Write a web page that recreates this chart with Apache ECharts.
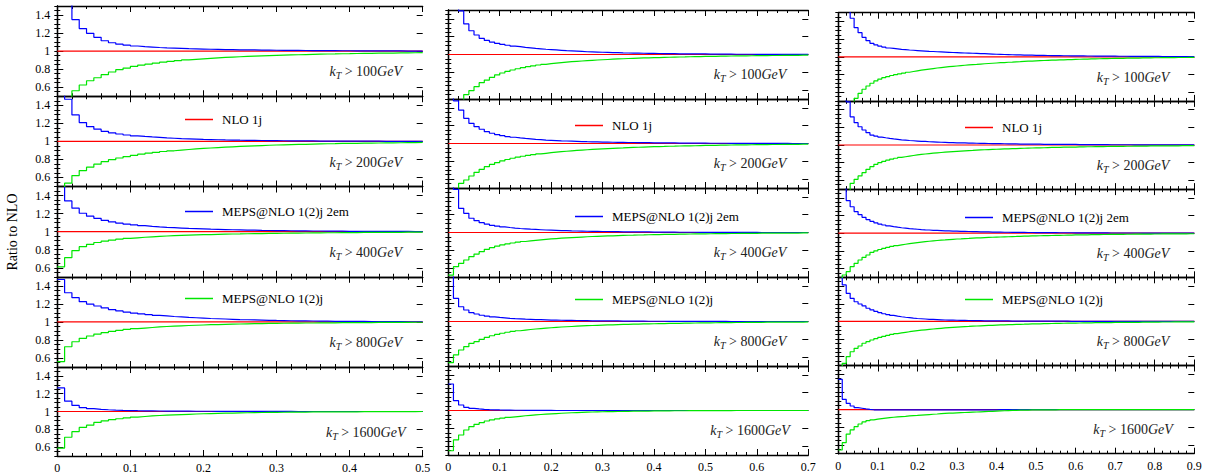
<!DOCTYPE html>
<html><head><meta charset="utf-8">
<script src="https://cdn.jsdelivr.net/npm/echarts@6/dist/echarts.min.js"></script>
<style>html,body{margin:0;padding:0;background:#fff}#c{width:1206px;height:474px}</style>
</head><body><div id="c"></div>
<script>
// ---------------- DATA ----------------
const binWidth = 0.01;
const xMaxByColumn = [0.5, 0.7, 0.9];
const ktCuts = [100, 200, 400, 800, 1600];
const yTickLabels = [0.6, 0.8, 1, 1.2, 1.4];
const legendNames = ['NLO 1j', 'MEPS@NLO 1(2)j 2em', 'MEPS@NLO 1(2)j'];
const yAxisTitle = 'Ratio to NLO';
const nloRatio = 1;

// column 1 (0 - 0.5)
const c1_kt100_blue = [1.8,1.6,1.35,1.25,1.197,1.153,1.115,1.093,1.077,1.066,1.057,1.05,1.045,1.04,1.036,1.033,1.03,1.027,1.025,1.023,1.021,1.019,1.017,1.016,1.015,1.014,1.013,1.012,1.011,1.01,1.009,1.008,1.008,1.007,1.006,1.006,1.005,1.005,1.004,1.004,1.003,1.003,1.003,1.002,1.002,1.002,1.002,1.001,1.001,1.001];
const c1_kt100_green = [0.3,0.45,0.561,0.625,0.672,0.705,0.739,0.769,0.794,0.812,0.83,0.845,0.857,0.868,0.878,0.887,0.895,0.903,0.909,0.915,0.92,0.925,0.93,0.934,0.938,0.942,0.945,0.948,0.951,0.954,0.956,0.958,0.96,0.962,0.964,0.966,0.968,0.969,0.971,0.972,0.974,0.975,0.976,0.977,0.978,0.979,0.98,0.981,0.982,0.983];
const c1_kt200_blue = [1.7,1.467,1.293,1.208,1.164,1.135,1.112,1.095,1.082,1.071,1.062,1.055,1.049,1.044,1.039,1.035,1.031,1.028,1.025,1.022,1.02,1.018,1.016,1.015,1.013,1.012,1.011,1.01,1.009,1.008,1.007,1.006,1.006,1.005,1.005,1.004,1.004,1.003,1.003,1.003,1.002,1.002,1.002,1.002,1.001,1.001,1.001,1.001,1.001,1.0];
const c1_kt200_green = [0.4,0.537,0.621,0.677,0.714,0.748,0.775,0.797,0.816,0.832,0.846,0.858,0.869,0.879,0.888,0.896,0.903,0.91,0.916,0.922,0.927,0.932,0.936,0.94,0.944,0.948,0.951,0.954,0.957,0.96,0.962,0.964,0.966,0.968,0.97,0.972,0.974,0.975,0.977,0.978,0.979,0.98,0.981,0.982,0.983,0.984,0.985,0.986,0.987,0.988];
const c1_kt400_blue = [1.7,1.34,1.26,1.204,1.172,1.148,1.126,1.108,1.094,1.083,1.074,1.066,1.059,1.053,1.048,1.044,1.04,1.036,1.033,1.03,1.027,1.025,1.023,1.021,1.019,1.017,1.016,1.014,1.013,1.012,1.011,1.01,1.009,1.008,1.007,1.007,1.006,1.005,1.005,1.004,1.004,1.003,1.003,1.003,1.002,1.002,1.002,1.002,1.001,1.001];
const c1_kt400_green = [0.61,0.712,0.79,0.834,0.86,0.88,0.895,0.907,0.917,0.925,0.932,0.938,0.943,0.948,0.952,0.956,0.959,0.962,0.964,0.966,0.968,0.97,0.972,0.974,0.975,0.977,0.978,0.979,0.98,0.981,0.982,0.983,0.984,0.985,0.986,0.987,0.988,0.988,0.989,0.99,0.99,0.991,0.991,0.992,0.992,0.993,0.993,0.994,0.994,0.995];
const c1_kt800_blue = [1.47,1.323,1.268,1.224,1.198,1.176,1.155,1.137,1.122,1.109,1.098,1.088,1.08,1.072,1.066,1.06,1.055,1.05,1.046,1.042,1.038,1.035,1.032,1.029,1.026,1.024,1.022,1.02,1.018,1.016,1.015,1.013,1.012,1.011,1.01,1.009,1.008,1.007,1.007,1.006,1.005,1.005,1.004,1.004,1.003,1.003,1.003,1.002,1.002,1.002];
const c1_kt800_green = [0.56,0.725,0.78,0.818,0.844,0.865,0.882,0.896,0.907,0.917,0.925,0.932,0.938,0.944,0.949,0.953,0.957,0.96,0.963,0.966,0.969,0.971,0.973,0.975,0.977,0.979,0.98,0.981,0.983,0.984,0.985,0.986,0.987,0.988,0.988,0.989,0.99,0.99,0.991,0.992,0.992,0.993,0.993,0.994,0.994,0.994,0.995,0.995,0.996,0.996];
const c1_kt1600_blue = [1.265,1.116,1.069,1.043,1.032,1.025,1.02,1.016,1.013,1.011,1.009,1.008,1.007,1.006,1.005,1.005,1.004,1.004,1.003,1.003,1.003,1.002,1.002,1.002,1.002,1.001,1.001,1.001,1.001,1.001,1.001,1.001,1,1,1,1,1,1,1,1,1,1,1,1,1,1,1,1,1,1];
const c1_kt1600_green = [0.589,0.711,0.773,0.821,0.847,0.877,0.895,0.908,0.919,0.928,0.937,0.944,0.95,0.955,0.959,0.963,0.966,0.969,0.972,0.975,0.977,0.979,0.981,0.983,0.985,0.986,0.988,0.989,0.99,0.991,0.992,0.993,0.993,0.994,0.995,0.995,0.996,0.996,0.997,0.997,0.997,0.998,0.998,0.998,0.999,0.999,0.999,0.999,0.999,1];

// column 2 (0 - 0.7)
const c2_kt100_blue = [1.9,1.7,1.49,1.343,1.267,1.219,1.182,1.158,1.14,1.126,1.114,1.104,1.095,1.088,1.081,1.075,1.069,1.064,1.059,1.055,1.051,1.047,1.043,1.04,1.037,1.034,1.031,1.029,1.027,1.025,1.023,1.021,1.02,1.018,1.017,1.016,1.015,1.014,1.013,1.012,1.011,1.01,1.01,1.009,1.008,1.008,1.007,1.007,1.006,1.006,1.005,1.005,1.004,1.004,1.004,1.003,1.003,1.003,1.003,1.002,1.002,1.002,1.002,1.002,1.001,1.001,1.001,1.001,1.001,1.001];
const c2_kt100_green = [0.3,0.4,0.47,0.55,0.593,0.638,0.683,0.713,0.744,0.77,0.792,0.81,0.826,0.84,0.852,0.863,0.873,0.882,0.89,0.897,0.903,0.909,0.914,0.919,0.923,0.927,0.931,0.935,0.938,0.941,0.944,0.947,0.95,0.952,0.955,0.957,0.959,0.961,0.963,0.965,0.966,0.968,0.969,0.971,0.972,0.973,0.975,0.976,0.977,0.978,0.979,0.98,0.981,0.982,0.983,0.984,0.984,0.985,0.986,0.987,0.987,0.988,0.989,0.989,0.99,0.99,0.991,0.991,0.992,0.992];
const c2_kt200_blue = [1.7,1.48,1.376,1.283,1.227,1.189,1.16,1.133,1.115,1.1,1.088,1.078,1.07,1.063,1.057,1.052,1.047,1.043,1.039,1.036,1.033,1.03,1.028,1.026,1.024,1.022,1.02,1.019,1.018,1.016,1.015,1.014,1.013,1.012,1.011,1.011,1.01,1.009,1.009,1.008,1.007,1.007,1.006,1.006,1.005,1.005,1.005,1.004,1.004,1.004,1.003,1.003,1.003,1.003,1.002,1.002,1.002,1.002,1.002,1.001,1.001,1.001,1.001,1.001,1.001,1.001,1,1,1,1];
const c2_kt200_green = [0.3,0.45,0.553,0.59,0.635,0.676,0.71,0.74,0.765,0.786,0.804,0.82,0.834,0.846,0.857,0.867,0.875,0.883,0.89,0.897,0.903,0.908,0.913,0.918,0.922,0.926,0.93,0.934,0.937,0.94,0.943,0.946,0.949,0.951,0.954,0.956,0.958,0.96,0.962,0.964,0.966,0.967,0.969,0.97,0.972,0.973,0.974,0.975,0.977,0.978,0.979,0.98,0.981,0.982,0.983,0.984,0.984,0.985,0.986,0.987,0.987,0.988,0.989,0.989,0.99,0.99,0.991,0.991,0.992,0.992];
const c2_kt400_blue = [1.7,1.485,1.272,1.216,1.16,1.133,1.11,1.094,1.081,1.071,1.063,1.056,1.05,1.045,1.041,1.037,1.034,1.031,1.028,1.026,1.024,1.022,1.02,1.018,1.017,1.016,1.014,1.013,1.012,1.011,1.011,1.01,1.009,1.008,1.008,1.007,1.007,1.006,1.006,1.005,1.005,1.004,1.004,1.004,1.003,1.003,1.003,1.003,1.002,1.002,1.002,1.002,1.002,1.001,1.001,1.001,1.001,1.001,1.001,1.001,1,1,1,1,1,1,1,1,1,1];
const c2_kt400_green = [0.52,0.616,0.654,0.691,0.728,0.758,0.784,0.811,0.83,0.846,0.86,0.872,0.882,0.891,0.899,0.906,0.912,0.918,0.923,0.928,0.932,0.936,0.94,0.943,0.946,0.949,0.952,0.955,0.957,0.959,0.961,0.963,0.965,0.967,0.969,0.97,0.972,0.973,0.975,0.976,0.977,0.978,0.979,0.98,0.981,0.982,0.983,0.984,0.985,0.985,0.986,0.987,0.987,0.988,0.989,0.989,0.99,0.99,0.991,0.991,0.992,0.992,0.993,0.993,0.993,0.994,0.994,0.994,0.995,0.995];
const c2_kt800_blue = [1.7,1.26,1.166,1.129,1.099,1.084,1.07,1.06,1.052,1.046,1.041,1.036,1.032,1.029,1.026,1.024,1.022,1.02,1.018,1.016,1.015,1.014,1.013,1.012,1.011,1.01,1.009,1.008,1.008,1.007,1.007,1.006,1.006,1.005,1.005,1.004,1.004,1.004,1.003,1.003,1.003,1.003,1.002,1.002,1.002,1.002,1.002,1.001,1.001,1.001,1.001,1.001,1.001,1.001,1,1,1,1,1,1,1,1,1,1,1,1,1,1,1,1];
const c2_kt800_green = [0.537,0.624,0.68,0.717,0.755,0.773,0.8,0.822,0.84,0.855,0.868,0.879,0.888,0.896,0.903,0.91,0.916,0.921,0.926,0.93,0.934,0.938,0.941,0.944,0.947,0.95,0.953,0.955,0.957,0.959,0.961,0.963,0.965,0.967,0.968,0.97,0.971,0.973,0.974,0.975,0.976,0.977,0.978,0.979,0.98,0.981,0.982,0.983,0.984,0.985,0.985,0.986,0.987,0.987,0.988,0.989,0.989,0.99,0.99,0.991,0.991,0.992,0.992,0.993,0.993,0.993,0.994,0.994,0.994,0.995];
const c2_kt1600_blue = [1.298,1.11,1.062,1.036,1.024,1.018,1.013,1.01,1.008,1.006,1.005,1.004,1.003,1.003,1.002,1.002,1.002,1.001,1.001,1.001,1,1,1,1,1,1,1,1,1,1,1,1,1,1,1,1,1,1,1,1,1,1,1,1,1,1,1,1,1,1,1,1,1,1,1,1,1,1,1,1,1,1,1,1,1,1,1,1,1,1];
const c2_kt1600_green = [0.548,0.669,0.725,0.781,0.818,0.845,0.863,0.882,0.895,0.905,0.914,0.922,0.929,0.935,0.941,0.946,0.951,0.955,0.959,0.963,0.966,0.969,0.972,0.975,0.977,0.979,0.981,0.983,0.985,0.986,0.987,0.988,0.989,0.99,0.991,0.992,0.993,0.993,0.994,0.995,0.995,0.996,0.996,0.997,0.997,0.997,0.998,0.998,0.998,0.998,0.999,0.999,0.999,0.999,0.999,1,1,1,1,1,1,1,1,1,1,1,1,1,1,1];

// column 3 (0 - 0.9)
const c3_kt100_blue = [2,1.8,1.6,1.437,1.33,1.273,1.221,1.183,1.153,1.135,1.12,1.11,1.1,1.095,1.09,1.085,1.081,1.077,1.074,1.071,1.068,1.065,1.062,1.06,1.057,1.055,1.053,1.051,1.049,1.047,1.045,1.043,1.042,1.04,1.039,1.037,1.035,1.033,1.031,1.029,1.028,1.026,1.025,1.023,1.022,1.021,1.02,1.019,1.018,1.017,1.016,1.016,1.015,1.014,1.013,1.013,1.012,1.012,1.011,1.011,1.01,1.01,1.009,1.009,1.008,1.008,1.008,1.007,1.007,1.007,1.006,1.006,1.006,1.005,1.005,1.005,1.005,1.004,1.004,1.004,1.004,1.003,1.003,1.003,1.003,1.003,1.002,1.002,1.002,1.002];
const c3_kt100_green = [0.2,0.3,0.4,0.47,0.529,0.586,0.632,0.669,0.7,0.726,0.748,0.763,0.776,0.788,0.798,0.807,0.816,0.825,0.833,0.841,0.848,0.855,0.861,0.867,0.873,0.878,0.883,0.888,0.892,0.896,0.9,0.904,0.908,0.911,0.914,0.918,0.921,0.924,0.927,0.93,0.933,0.935,0.938,0.94,0.943,0.945,0.948,0.95,0.952,0.954,0.956,0.958,0.96,0.962,0.963,0.965,0.966,0.968,0.969,0.971,0.972,0.973,0.974,0.976,0.977,0.978,0.979,0.98,0.981,0.982,0.983,0.983,0.984,0.985,0.986,0.986,0.987,0.988,0.988,0.989,0.989,0.99,0.99,0.991,0.991,0.992,0.992,0.992,0.993,0.993];
const c3_kt200_blue = [1.9,1.7,1.49,1.32,1.253,1.207,1.17,1.14,1.113,1.1,1.09,1.082,1.075,1.069,1.064,1.059,1.055,1.051,1.048,1.045,1.042,1.04,1.037,1.035,1.033,1.031,1.03,1.028,1.027,1.025,1.024,1.023,1.022,1.021,1.02,1.019,1.018,1.017,1.016,1.015,1.015,1.014,1.013,1.013,1.012,1.011,1.011,1.01,1.01,1.009,1.009,1.008,1.008,1.008,1.007,1.007,1.007,1.006,1.006,1.006,1.005,1.005,1.005,1.005,1.004,1.004,1.004,1.004,1.003,1.003,1.003,1.003,1.003,1.003,1.002,1.002,1.002,1.002,1.002,1.002,1.002,1.001,1.001,1.001,1.001,1.001,1.001,1.001,1.001,1.001];
const c3_kt200_green = [0.2,0.35,0.45,0.566,0.611,0.649,0.686,0.724,0.754,0.781,0.8,0.815,0.828,0.84,0.85,0.859,0.867,0.874,0.881,0.887,0.893,0.898,0.903,0.907,0.911,0.915,0.919,0.922,0.925,0.928,0.931,0.934,0.937,0.939,0.942,0.944,0.946,0.948,0.95,0.952,0.954,0.956,0.957,0.959,0.96,0.962,0.963,0.965,0.966,0.967,0.968,0.969,0.971,0.972,0.973,0.974,0.975,0.976,0.976,0.977,0.978,0.979,0.98,0.98,0.981,0.982,0.982,0.983,0.984,0.984,0.985,0.985,0.986,0.986,0.987,0.987,0.988,0.988,0.989,0.989,0.99,0.99,0.99,0.991,0.991,0.991,0.992,0.992,0.992,0.993];
const c3_kt400_blue = [1.8,1.6,1.37,1.3,1.245,1.21,1.18,1.155,1.135,1.118,1.104,1.093,1.083,1.075,1.068,1.062,1.057,1.052,1.048,1.045,1.041,1.038,1.036,1.033,1.031,1.029,1.027,1.026,1.024,1.023,1.021,1.02,1.019,1.018,1.017,1.016,1.015,1.014,1.013,1.013,1.012,1.011,1.011,1.01,1.01,1.009,1.009,1.008,1.008,1.007,1.007,1.007,1.006,1.006,1.006,1.005,1.005,1.005,1.005,1.004,1.004,1.004,1.004,1.003,1.003,1.003,1.003,1.003,1.002,1.002,1.002,1.002,1.002,1.002,1.002,1.002,1.001,1.001,1.001,1.001,1.001,1.001,1.001,1.001,1.001,1.001,1.001,1.001,1.001,1.001];
const c3_kt400_green = [0.45,0.526,0.564,0.62,0.659,0.696,0.727,0.753,0.783,0.8,0.815,0.828,0.84,0.85,0.859,0.867,0.875,0.882,0.888,0.894,0.899,0.904,0.909,0.913,0.917,0.921,0.924,0.928,0.931,0.934,0.936,0.939,0.941,0.944,0.946,0.948,0.95,0.952,0.954,0.956,0.957,0.959,0.96,0.962,0.963,0.965,0.966,0.967,0.969,0.97,0.971,0.972,0.973,0.974,0.975,0.976,0.977,0.978,0.979,0.98,0.98,0.981,0.982,0.983,0.983,0.984,0.985,0.985,0.986,0.986,0.987,0.987,0.988,0.988,0.989,0.989,0.99,0.99,0.99,0.991,0.991,0.992,0.992,0.992,0.993,0.993,0.993,0.993,0.994,0.994];
const c3_kt800_blue = [1.7,1.413,1.318,1.262,1.223,1.197,1.175,1.149,1.13,1.113,1.099,1.087,1.077,1.068,1.06,1.053,1.047,1.042,1.037,1.033,1.03,1.027,1.024,1.022,1.02,1.018,1.016,1.015,1.014,1.013,1.012,1.011,1.01,1.009,1.009,1.008,1.007,1.007,1.006,1.006,1.005,1.005,1.005,1.004,1.004,1.004,1.003,1.003,1.003,1.003,1.003,1.002,1.002,1.002,1.002,1.002,1.002,1.002,1.001,1.001,1.001,1.001,1.001,1.001,1.001,1.001,1.001,1.001,1.001,1.001,1,1,1,1,1,1,1,1,1,1,1,1,1,1,1,1,1,1,1,1];
const c3_kt800_green = [0.45,0.525,0.6,0.656,0.695,0.721,0.752,0.77,0.789,0.805,0.819,0.831,0.842,0.852,0.861,0.869,0.876,0.883,0.889,0.895,0.9,0.905,0.91,0.914,0.918,0.922,0.926,0.929,0.932,0.935,0.938,0.941,0.943,0.946,0.948,0.95,0.952,0.954,0.956,0.958,0.96,0.961,0.963,0.964,0.966,0.967,0.968,0.97,0.971,0.972,0.973,0.974,0.975,0.976,0.977,0.978,0.979,0.98,0.981,0.981,0.982,0.983,0.984,0.984,0.985,0.985,0.986,0.987,0.987,0.988,0.988,0.989,0.989,0.99,0.99,0.99,0.991,0.991,0.992,0.992,0.992,0.993,0.993,0.993,0.994,0.994,0.994,0.994,0.995,0.995];
const c3_kt1600_blue = [1.343,1.117,1.071,1.041,1.022,1.015,1.008,1.002,0.998,0.996,0.996,0.996,0.996,0.996,0.996,0.996,0.996,0.996,0.996,0.996,0.996,0.996,0.996,0.996,0.996,0.996,0.996,0.996,0.996,0.996,0.997,0.997,0.997,0.997,0.997,0.998,0.998,0.998,0.998,0.998,0.999,0.999,0.999,0.999,0.999,1,1,1,1,1,1,1,1,1,1,1,1,1,1,1,1,1,1,1,1,1,1,1,1,1,1,1,1,1,1,1,1,1,1,1,1,1,1,1,1,1,1,1,1,1];
const c3_kt1600_green = [0.542,0.625,0.723,0.769,0.806,0.837,0.86,0.874,0.883,0.891,0.898,0.903,0.908,0.913,0.917,0.921,0.924,0.928,0.931,0.934,0.938,0.941,0.944,0.947,0.95,0.954,0.957,0.959,0.961,0.963,0.965,0.967,0.969,0.971,0.973,0.975,0.977,0.979,0.981,0.983,0.985,0.987,0.989,0.991,0.992,0.993,0.994,0.995,0.996,0.996,0.997,0.997,0.998,0.998,0.998,0.999,0.999,0.999,0.999,1,1,1,1,1,1,1,1,1,1,1,1,1,1,1,1,1,1,1,1,1,1,1,1,1,1,1,1,1,1,1];

const blueSeries = [
  [c1_kt100_blue, c1_kt200_blue, c1_kt400_blue, c1_kt800_blue, c1_kt1600_blue],
  [c2_kt100_blue, c2_kt200_blue, c2_kt400_blue, c2_kt800_blue, c2_kt1600_blue],
  [c3_kt100_blue, c3_kt200_blue, c3_kt400_blue, c3_kt800_blue, c3_kt1600_blue]
];
const greenSeries = [
  [c1_kt100_green, c1_kt200_green, c1_kt400_green, c1_kt800_green, c1_kt1600_green],
  [c2_kt100_green, c2_kt200_green, c2_kt400_green, c2_kt800_green, c2_kt1600_green],
  [c3_kt100_green, c3_kt200_green, c3_kt400_green, c3_kt800_green, c3_kt1600_green]
];

// ---------------- LAYOUT / STYLE ----------------
const FONT = 'Liberation Serif';
const layout = [
  {left: 57.3, width: 365.4, top: 6, height: 90.26, labelX: 365.7, legendX: 185, legendY: [121, 213, 300], yLabels: true},
  {left: 448.3, width: 360, top: 10, height: 89, labelX: 750, legendX: 575, legendY: [127, 218, 301], yLabels: false},
  {left: 838.3, width: 356, top: 12.7, height: 88.2, labelX: 1133, legendX: 965, legendY: [129, 219, 301], yLabels: false}
];
const COLORS = {nlo: '#ff0000', meps2em: '#0000ff', meps: '#00e600'};

function steps(arr) {
  const d = arr.map((v, i) => [+(i * binWidth).toFixed(5), v]);
  d.push([+(arr.length * binWidth).toFixed(5), arr[arr.length - 1]]);
  return d;
}
function yLabelFmt(v) {
  const m = yTickLabels.find(t => Math.abs(t - v) < 1e-6);
  return m === undefined ? '' : String(m);
}

const grid = [], xAxis = [], yAxis = [], series = [], legend = [], graphic = [];
const axisLine = {show: true, lineStyle: {color: '#000', width: 1.3}};
const tickStyle = {color: '#000', width: 1};

layout.forEach((L, c) => {
  const xmax = xMaxByColumn[c];
  ktCuts.forEach((kt, r) => {
    const g = grid.length;
    const top = L.top + r * L.height;
    grid.push({left: L.left, top: top, width: L.width, height: L.height});
    const xBase = {
      type: 'value', gridIndex: g, min: 0, max: xmax, interval: 0.1,
      splitLine: {show: false}, axisLine: axisLine,
      axisTick: {show: true, inside: true, length: 6, lineStyle: tickStyle},
      minorTick: {show: true, splitNumber: 5, length: 3, lineStyle: tickStyle}
    };
    xAxis.push(Object.assign({}, xBase, {position: 'bottom',
      axisLabel: {show: r === 4, color: '#000', fontFamily: FONT, fontSize: 12, margin: 6}}));
    xAxis.push(Object.assign({}, xBase, {position: 'top', axisLabel: {show: false}}));
    const yBase = {
      type: 'value', gridIndex: g, min: 0.5, max: 1.5, interval: 0.05,
      splitLine: {show: false}, axisLine: axisLine,
      axisTick: {show: true, inside: true, length: 3, lineStyle: tickStyle}
    };
    yAxis.push(Object.assign({}, yBase, {position: 'left',
      axisLabel: {show: L.yLabels, formatter: yLabelFmt, color: '#000', fontFamily: FONT, fontSize: 12, margin: 7,
        showMinLabel: false, showMaxLabel: false}}));
    yAxis.push(Object.assign({}, yBase, {position: 'right', axisLabel: {show: false}}));
    const yMajor = {
      type: 'value', gridIndex: g, min: 0.5, max: 1.5, interval: 0.05,
      splitLine: {show: false}, axisLine: {show: false}, axisLabel: {show: false},
      axisTick: {show: true, inside: true, length: 6, customValues: yTickLabels, lineStyle: tickStyle}
    };
    yAxis.push(Object.assign({}, yMajor, {position: 'left'}));
    yAxis.push(Object.assign({}, yMajor, {position: 'right'}));

    const common = {type: 'line', xAxisIndex: 2 * g, yAxisIndex: 4 * g, showSymbol: false, symbol: 'none',
      animation: false, silent: true, clip: true};
    series.push(Object.assign({}, common, {name: legendNames[0],
      data: [[0, nloRatio], [xmax, nloRatio]],
      lineStyle: {color: COLORS.nlo, width: 1.2}, itemStyle: {color: COLORS.nlo}, z: 2}));
    series.push(Object.assign({}, common, {name: legendNames[1], step: 'end',
      data: steps(blueSeries[c][r]),
      lineStyle: {color: COLORS.meps2em, width: 1.2}, itemStyle: {color: COLORS.meps2em}, z: 3}));
    series.push(Object.assign({}, common, {name: legendNames[2], step: 'end',
      data: steps(greenSeries[c][r]),
      lineStyle: {color: COLORS.meps, width: 1.2}, itemStyle: {color: COLORS.meps}, z: 4}));

    graphic.push({
      type: 'text', x: L.labelX, y: top + 0.73 * L.height, silent: true,
      style: {
        text: '{i|k}{s|T}{n| > ' + kt + '}{i|GeV}',
        align: 'center', verticalAlign: 'middle', fill: '#222',
        rich: {
          i: {fontFamily: FONT, fontStyle: 'italic', fontSize: 14, lineHeight: 18, verticalAlign: 'middle', fill: '#222'},
          s: {fontFamily: FONT, fontStyle: 'italic', fontSize: 10, lineHeight: 18, verticalAlign: 'bottom', fill: '#222'},
          n: {fontFamily: FONT, fontSize: 14, lineHeight: 18, verticalAlign: 'middle', fill: '#222'}
        }
      }
    });
  });
  legendNames.forEach((nm, k) => {
    legend.push({
      data: [{name: nm, icon: 'rect'}], left: L.legendX, top: L.legendY[k] - 8, padding: 0,
      itemWidth: 28, itemHeight: 1.5, selectedMode: false,
      textStyle: {fontFamily: FONT, fontSize: 13, fontWeight: 'normal', color: '#000', padding: [0, 0, 0, 4]}
    });
  });
});

graphic.push({
  type: 'text', x: 12, y: 232, rotation: Math.PI / 2, silent: true,
  style: {text: yAxisTitle, align: 'center', verticalAlign: 'middle', fontFamily: FONT, fontSize: 14, fill: '#000'}
});

const chart = echarts.init(document.getElementById('c'), null, {renderer: 'svg'});
chart.setOption({
  backgroundColor: '#fff', animation: false,
  grid, xAxis, yAxis, series, legend, graphic
});
</script>
</body></html>
